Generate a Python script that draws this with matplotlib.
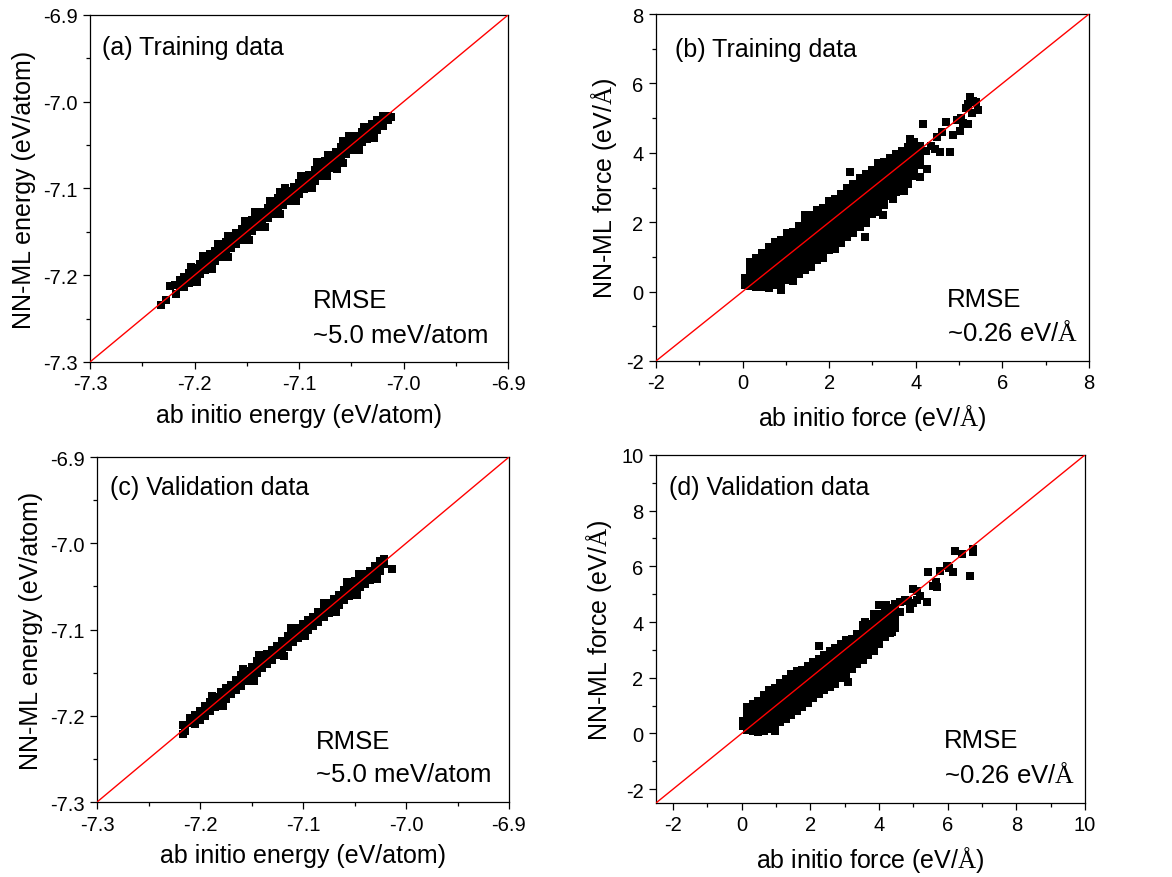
import matplotlib
matplotlib.use('Agg')
import matplotlib.pyplot as plt
import numpy as np
from matplotlib.ticker import MultipleLocator, FormatStrFormatter

plt.rcParams['font.family'] = ['Liberation Sans', 'DejaVu Sans']
plt.rcParams['axes.unicode_minus'] = False
plt.rcParams['mathtext.fontset'] = 'custom'
plt.rcParams['mathtext.rm'] = 'Liberation Serif'

# (a) training energies, eV/atom: (ab initio, NN-ML)
energy_train = [
    (-7.232, -7.234), (-7.227, -7.229), (-7.223, -7.213), (-7.219, -7.211), (-7.218, -7.222),
    (-7.214, -7.206), (-7.214, -7.212),
    (-7.210, -7.202), (-7.210, -7.208), (-7.210, -7.214),
    (-7.205, -7.197), (-7.205, -7.203), (-7.205, -7.209),
    (-7.200, -7.192), (-7.200, -7.198), (-7.200, -7.204),
    (-7.195, -7.187), (-7.195, -7.193), (-7.195, -7.199),
    (-7.190, -7.181), (-7.190, -7.188), (-7.190, -7.194),
    (-7.185, -7.176), (-7.185, -7.183), (-7.185, -7.189),
    (-7.180, -7.172), (-7.180, -7.178), (-7.180, -7.184),
    (-7.175, -7.167), (-7.175, -7.173), (-7.175, -7.179),
    (-7.170, -7.162), (-7.170, -7.168), (-7.170, -7.174),
    (-7.165, -7.156), (-7.165, -7.163), (-7.165, -7.169),
    (-7.160, -7.151), (-7.160, -7.158), (-7.160, -7.164),
    (-7.155, -7.147), (-7.155, -7.153), (-7.155, -7.159),
    (-7.150, -7.142), (-7.150, -7.148), (-7.150, -7.154),
    (-7.145, -7.136), (-7.145, -7.143), (-7.145, -7.149),
    (-7.140, -7.131), (-7.140, -7.138), (-7.140, -7.144),
    (-7.135, -7.127), (-7.135, -7.133), (-7.135, -7.139),
    (-7.130, -7.122), (-7.130, -7.128), (-7.130, -7.134),
    (-7.125, -7.116), (-7.125, -7.123), (-7.125, -7.129),
    (-7.120, -7.111), (-7.120, -7.118), (-7.120, -7.124),
    (-7.115, -7.106), (-7.115, -7.113), (-7.115, -7.119),
    (-7.110, -7.103), (-7.110, -7.109), (-7.110, -7.115),
    (-7.105, -7.098), (-7.105, -7.104), (-7.105, -7.110),
    (-7.100, -7.094), (-7.100, -7.100), (-7.100, -7.106),
    (-7.095, -7.089), (-7.095, -7.095), (-7.095, -7.101),
    (-7.090, -7.084), (-7.090, -7.090), (-7.090, -7.096),
    (-7.085, -7.079), (-7.085, -7.085), (-7.085, -7.091),
    (-7.080, -7.073), (-7.080, -7.080), (-7.080, -7.086),
    (-7.075, -7.068), (-7.075, -7.075), (-7.075, -7.081),
    (-7.070, -7.064), (-7.070, -7.070), (-7.070, -7.076),
    (-7.065, -7.058), (-7.065, -7.065), (-7.065, -7.071), (-7.064, -7.077),
    (-7.060, -7.052), (-7.060, -7.059), (-7.060, -7.065),
    (-7.055, -7.048), (-7.055, -7.054), (-7.055, -7.060),
    (-7.050, -7.044), (-7.050, -7.050), (-7.050, -7.056),
    (-7.045, -7.040), (-7.045, -7.046), (-7.045, -7.052),
    (-7.040, -7.035), (-7.040, -7.041), (-7.040, -7.047),
    (-7.035, -7.031), (-7.035, -7.037), (-7.035, -7.043),
    (-7.030, -7.026), (-7.030, -7.032), (-7.030, -7.038),
    (-7.025, -7.021), (-7.025, -7.027), (-7.025, -7.033),
    (-7.020, -7.017), (-7.020, -7.023), (-7.020, -7.028),
    (-7.015, -7.016), (-7.015, -7.021), (-7.012, -7.018),
    # ragged edges of the band
    (-7.203, -7.190), (-7.192, -7.178), (-7.178, -7.164), (-7.168, -7.155), (-7.152, -7.138),
    (-7.142, -7.127), (-7.128, -7.115), (-7.118, -7.104), (-7.113, -7.099), (-7.098, -7.086),
    (-7.083, -7.070), (-7.072, -7.061), (-7.058, -7.045), (-7.052, -7.040), (-7.038, -7.029),
    (-7.198, -7.208), (-7.183, -7.193), (-7.168, -7.179), (-7.148, -7.159), (-7.133, -7.144),
    (-7.118, -7.129), (-7.103, -7.114), (-7.088, -7.100), (-7.073, -7.086), (-7.058, -7.071),
    (-7.043, -7.056), (-7.028, -7.042),
]

# (b) training forces, eV/A
force_train = [
    (0.05, 0.20), (0.05, 0.38),
    (0.18, 0.15), (0.18, 0.33), (0.18, 0.52), (0.18, 0.70), (0.18, 0.86),
    (0.32, 0.13), (0.32, 0.30), (0.32, 0.48), (0.32, 0.66), (0.32, 0.84), (0.32, 0.98),
    (0.46, 0.14), (0.46, 0.32), (0.46, 0.50), (0.46, 0.68), (0.46, 0.86), (0.46, 1.04), (0.46, 1.12),
    (0.60, 0.10), (0.60, 0.28), (0.60, 0.46), (0.60, 0.64), (0.60, 0.82), (0.60, 1.00), (0.60, 1.18), (0.60, 1.28),
    (0.74, 0.18), (0.74, 0.36), (0.74, 0.54), (0.74, 0.72), (0.74, 0.90), (0.74, 1.08), (0.74, 1.26), (0.74, 1.42),
    (0.88, 0.05), (0.88, 0.24), (0.88, 0.42), (0.88, 0.60), (0.88, 0.78), (0.88, 0.96), (0.88, 1.14), (0.88, 1.32), (0.88, 1.50),
    (1.02, 0.32), (1.02, 0.50), (1.02, 0.68), (1.02, 0.86), (1.02, 1.04), (1.02, 1.22), (1.02, 1.40), (1.02, 1.58), (1.02, 1.70),
    (1.16, 0.30), (1.16, 0.48), (1.16, 0.66), (1.16, 0.84), (1.16, 1.02), (1.16, 1.20), (1.16, 1.38), (1.16, 1.56), (1.16, 1.72),
    (1.30, 0.52), (1.30, 0.70), (1.30, 0.88), (1.30, 1.06), (1.30, 1.24), (1.30, 1.42), (1.30, 1.60), (1.30, 1.78), (1.30, 1.90),
    (1.44, 0.62), (1.44, 0.80), (1.44, 0.98), (1.44, 1.16), (1.44, 1.34), (1.44, 1.52), (1.44, 1.70), (1.44, 1.88), (1.44, 2.06), (1.44, 2.20),
    (1.58, 0.70), (1.58, 0.88), (1.58, 1.06), (1.58, 1.24), (1.58, 1.42), (1.58, 1.60), (1.58, 1.78), (1.58, 1.96), (1.58, 2.14), (1.58, 2.22),
    (1.72, 0.92), (1.72, 1.10), (1.72, 1.28), (1.72, 1.46), (1.72, 1.64), (1.72, 1.82), (1.72, 2.00), (1.72, 2.18), (1.72, 2.34),
    (1.86, 0.98), (1.86, 1.16), (1.86, 1.34), (1.86, 1.52), (1.86, 1.70), (1.86, 1.88), (1.86, 2.06), (1.86, 2.24), (1.86, 2.42),
    (2.00, 1.20), (2.00, 1.38), (2.00, 1.56), (2.00, 1.74), (2.00, 1.92), (2.00, 2.10), (2.00, 2.28), (2.00, 2.46), (2.00, 2.62),
    (2.14, 1.24), (2.14, 1.42), (2.14, 1.60), (2.14, 1.78), (2.14, 1.96), (2.14, 2.14), (2.14, 2.32), (2.14, 2.50), (2.14, 2.66),
    (2.28, 1.40), (2.28, 1.58), (2.28, 1.76), (2.28, 1.94), (2.28, 2.12), (2.28, 2.30), (2.28, 2.48), (2.28, 2.66), (2.28, 2.82),
    (2.42, 1.56), (2.42, 1.74), (2.42, 1.92), (2.42, 2.10), (2.42, 2.28), (2.42, 2.46), (2.42, 2.64), (2.42, 2.82), (2.42, 3.00),
    (2.56, 1.70), (2.56, 1.88), (2.56, 2.06), (2.56, 2.24), (2.56, 2.42), (2.56, 2.60), (2.56, 2.78), (2.56, 2.96), (2.56, 3.10),
    (2.70, 1.86), (2.70, 2.04), (2.70, 2.22), (2.70, 2.40), (2.70, 2.58), (2.70, 2.76), (2.70, 2.94), (2.70, 3.12), (2.70, 3.28),
    (2.84, 1.98), (2.84, 2.16), (2.84, 2.34), (2.84, 2.52), (2.84, 2.70), (2.84, 2.88), (2.84, 3.06), (2.84, 3.24), (2.84, 3.40),
    (2.98, 2.24), (2.98, 2.42), (2.98, 2.60), (2.98, 2.78), (2.98, 2.96), (2.98, 3.14), (2.98, 3.32), (2.98, 3.50),
    (3.12, 2.30), (3.12, 2.48), (3.12, 2.66), (3.12, 2.84), (3.12, 3.02), (3.12, 3.20), (3.12, 3.38), (3.12, 3.56), (3.12, 3.70),
    (3.26, 2.50), (3.26, 2.68), (3.26, 2.86), (3.26, 3.04), (3.26, 3.22), (3.26, 3.40), (3.26, 3.58), (3.26, 3.74),
    (3.40, 2.76), (3.40, 2.94), (3.40, 3.12), (3.40, 3.30), (3.40, 3.48), (3.40, 3.66), (3.40, 3.84),
    (3.54, 2.88), (3.54, 3.06), (3.54, 3.24), (3.54, 3.42), (3.54, 3.60), (3.54, 3.78), (3.54, 3.96),
    (3.68, 3.02), (3.68, 3.20), (3.68, 3.38), (3.68, 3.56), (3.68, 3.74), (3.68, 3.92), (3.68, 4.06),
    (3.82, 3.10), (3.82, 3.28), (3.82, 3.46), (3.82, 3.64), (3.82, 3.82), (3.82, 4.00), (3.82, 4.18),
    (3.96, 3.32), (3.96, 3.50), (3.96, 3.68), (3.96, 3.86), (3.96, 4.04), (3.96, 4.22), (3.96, 4.30),
    (4.10, 3.30), (4.10, 3.66), (4.10, 3.84), (4.10, 4.02), (4.10, 4.20),
    (2.48, 3.44), (2.83, 1.56), (3.25, 2.22), (3.48, 2.67), (3.73, 2.90), (3.86, 4.40), (4.17, 4.83),
    (4.25, 3.53), (4.24, 4.05), (4.35, 4.20), (4.45, 4.10), (4.50, 4.45), (4.56, 4.01), (4.60, 4.60),
    (4.70, 4.90), (4.79, 4.01), (4.85, 4.50), (4.95, 4.95), (5.02, 4.64), (5.05, 5.00), (5.10, 4.85),
    (5.15, 5.30), (5.20, 5.40), (5.21, 4.83), (5.25, 5.60), (5.30, 5.15), (5.32, 5.50), (5.40, 5.45),
    (5.44, 5.22),
]

# (c) validation energies, eV/atom
energy_valid = [
    (-7.217, -7.211), (-7.217, -7.221), (-7.215, -7.218),
    (-7.210, -7.203), (-7.210, -7.208),
    (-7.205, -7.199), (-7.205, -7.205), (-7.205, -7.210),
    (-7.200, -7.195), (-7.200, -7.200), (-7.200, -7.205),
    (-7.195, -7.189), (-7.195, -7.195), (-7.195, -7.200),
    (-7.190, -7.184), (-7.190, -7.190), (-7.190, -7.195),
    (-7.185, -7.178), (-7.185, -7.185), (-7.185, -7.190),
    (-7.180, -7.173), (-7.180, -7.180), (-7.180, -7.185),
    (-7.175, -7.168), (-7.175, -7.175), (-7.175, -7.180),
    (-7.170, -7.164), (-7.170, -7.170), (-7.170, -7.175),
    (-7.165, -7.159), (-7.165, -7.165), (-7.165, -7.170),
    (-7.160, -7.153), (-7.160, -7.160), (-7.160, -7.165),
    (-7.155, -7.148), (-7.155, -7.155), (-7.155, -7.160),
    (-7.150, -7.143), (-7.150, -7.150), (-7.150, -7.155),
    (-7.145, -7.137), (-7.145, -7.144), (-7.145, -7.150),
    (-7.140, -7.132), (-7.140, -7.139), (-7.140, -7.145),
    (-7.135, -7.128), (-7.135, -7.135), (-7.135, -7.140),
    (-7.130, -7.124), (-7.130, -7.130), (-7.130, -7.135),
    (-7.125, -7.119), (-7.125, -7.125), (-7.125, -7.130),
    (-7.120, -7.113), (-7.120, -7.120), (-7.120, -7.125),
    (-7.115, -7.107), (-7.115, -7.114), (-7.115, -7.120),
    (-7.110, -7.102), (-7.110, -7.109), (-7.110, -7.115),
    (-7.105, -7.098), (-7.105, -7.105), (-7.105, -7.110),
    (-7.100, -7.094), (-7.100, -7.100), (-7.100, -7.105),
    (-7.095, -7.089), (-7.095, -7.095), (-7.095, -7.100),
    (-7.090, -7.085), (-7.090, -7.090), (-7.090, -7.096),
    (-7.085, -7.080), (-7.085, -7.085), (-7.085, -7.091),
    (-7.080, -7.074), (-7.080, -7.080), (-7.080, -7.086),
    (-7.075, -7.069), (-7.075, -7.075), (-7.075, -7.081),
    (-7.070, -7.065), (-7.070, -7.070), (-7.070, -7.076),
    (-7.065, -7.060), (-7.065, -7.065), (-7.065, -7.071),
    (-7.060, -7.054), (-7.060, -7.060), (-7.060, -7.066),
    (-7.055, -7.049), (-7.055, -7.055), (-7.055, -7.061),
    (-7.050, -7.044), (-7.050, -7.050), (-7.050, -7.056),
    (-7.045, -7.039), (-7.045, -7.045), (-7.045, -7.051),
    (-7.040, -7.036), (-7.040, -7.042), (-7.040, -7.047),
    (-7.035, -7.032), (-7.035, -7.037), (-7.035, -7.043),
    (-7.030, -7.026), (-7.030, -7.032), (-7.030, -7.038),
    (-7.025, -7.021), (-7.025, -7.027), (-7.025, -7.032),
    (-7.021, -7.018), (-7.021, -7.024), (-7.014, -7.030),
    # ragged edges of the band
    (-7.188, -7.177), (-7.158, -7.146), (-7.143, -7.130), (-7.112, -7.098), (-7.080, -7.069),
    (-7.057, -7.045), (-7.046, -7.036),
    (-7.178, -7.189), (-7.148, -7.160), (-7.118, -7.131), (-7.098, -7.108), (-7.068, -7.080),
    (-7.048, -7.060), (-7.028, -7.041),
]

# (d) validation forces, eV/A
force_valid = [
    (0.05, 0.25), (0.05, 0.45),
    (0.16, 0.12), (0.16, 0.34), (0.16, 0.56), (0.16, 0.78), (0.16, 0.95),
    (0.32, 0.08), (0.32, 0.30), (0.32, 0.52), (0.32, 0.74), (0.32, 0.96), (0.32, 1.05),
    (0.48, 0.06), (0.48, 0.28), (0.48, 0.50), (0.48, 0.72), (0.48, 0.94), (0.48, 1.16),
    (0.64, 0.10), (0.64, 0.32), (0.64, 0.54), (0.64, 0.76), (0.64, 0.98), (0.64, 1.20), (0.64, 1.38),
    (0.80, 0.14), (0.80, 0.36), (0.80, 0.58), (0.80, 0.80), (0.80, 1.02), (0.80, 1.24), (0.80, 1.46), (0.80, 1.55),
    (0.96, 0.10), (0.96, 0.30), (0.96, 0.52), (0.96, 0.74), (0.96, 0.96), (0.96, 1.18), (0.96, 1.40), (0.96, 1.62),
    (1.12, 0.40), (1.12, 0.62), (1.12, 0.84), (1.12, 1.06), (1.12, 1.28), (1.12, 1.50), (1.12, 1.72), (1.12, 1.80),
    (1.28, 0.52), (1.28, 0.74), (1.28, 0.96), (1.28, 1.18), (1.28, 1.40), (1.28, 1.62), (1.28, 1.84), (1.28, 1.95),
    (1.44, 0.66), (1.44, 0.88), (1.44, 1.10), (1.44, 1.32), (1.44, 1.54), (1.44, 1.76), (1.44, 1.98), (1.44, 2.15),
    (1.60, 0.80), (1.60, 1.02), (1.60, 1.24), (1.60, 1.46), (1.60, 1.68), (1.60, 1.90), (1.60, 2.12), (1.60, 2.25),
    (1.76, 0.96), (1.76, 1.18), (1.76, 1.40), (1.76, 1.62), (1.76, 1.84), (1.76, 2.06), (1.76, 2.28),
    (1.92, 1.10), (1.92, 1.32), (1.92, 1.54), (1.92, 1.76), (1.92, 1.98), (1.92, 2.20), (1.92, 2.42),
    (2.08, 1.28), (2.08, 1.50), (2.08, 1.72), (2.08, 1.94), (2.08, 2.16), (2.08, 2.38), (2.08, 2.55),
    (2.24, 1.40), (2.24, 1.62), (2.24, 1.84), (2.24, 2.06), (2.24, 2.28), (2.24, 2.50), (2.24, 2.68), (2.24, 3.15),
    (2.40, 1.56), (2.40, 1.78), (2.40, 2.00), (2.40, 2.22), (2.40, 2.44), (2.40, 2.66), (2.40, 2.80),
    (2.56, 1.66), (2.56, 1.88), (2.56, 2.10), (2.56, 2.32), (2.56, 2.54), (2.56, 2.76), (2.56, 2.95),
    (2.72, 1.76), (2.72, 1.98), (2.72, 2.20), (2.72, 2.42), (2.72, 2.64), (2.72, 2.86), (2.72, 3.05),
    (2.88, 1.98), (2.88, 2.20), (2.88, 2.42), (2.88, 2.64), (2.88, 2.86), (2.88, 3.08), (2.88, 3.20),
    (3.04, 2.12), (3.04, 2.34), (3.04, 2.56), (3.04, 2.78), (3.04, 3.00), (3.04, 3.22), (3.04, 3.35),
    (3.20, 2.30), (3.20, 2.52), (3.20, 2.74), (3.20, 2.96), (3.20, 3.18), (3.20, 3.40),
    (3.36, 2.48), (3.36, 2.70), (3.36, 2.92), (3.36, 3.14), (3.36, 3.36), (3.36, 3.58),
    (3.52, 2.62), (3.52, 2.84), (3.52, 3.06), (3.52, 3.28), (3.52, 3.50), (3.52, 3.72), (3.52, 3.88),
    (3.68, 2.82), (3.68, 3.04), (3.68, 3.26), (3.68, 3.48), (3.68, 3.70), (3.68, 3.92),
    (3.84, 2.95), (3.84, 3.17), (3.84, 3.39), (3.84, 3.61), (3.84, 3.83), (3.84, 4.05), (3.84, 4.30),
    (4.00, 3.20), (4.00, 3.42), (4.00, 3.64), (4.00, 3.86), (4.00, 4.08), (4.00, 4.30), (4.00, 4.62),
    (4.16, 3.45), (4.16, 3.67), (4.16, 3.89), (4.16, 4.11), (4.16, 4.33), (4.16, 4.50),
    (4.32, 3.62), (4.32, 3.84), (4.32, 4.06), (4.32, 4.28), (4.32, 4.50),
    (4.48, 3.78), (4.48, 4.00), (4.48, 4.22), (4.48, 4.44), (4.48, 4.66),
    (3.11, 1.83), (4.37, 3.63), (4.61, 4.35), (4.61, 4.72), (4.75, 4.80), (4.90, 4.47), (5.00, 4.70),
    (5.00, 5.19), (5.10, 5.13), (5.20, 4.95), (5.10, 4.80), (4.85, 4.75), (5.39, 4.71), (5.44, 5.79),
    (5.58, 5.31), (5.68, 5.25), (5.78, 5.84), (5.97, 6.02), (6.17, 5.78), (6.05, 5.95), (6.22, 6.56),
    (6.41, 6.45), (6.65, 5.66), (6.75, 6.50), (6.75, 6.62), (5.65, 5.45), (4.20, 4.60), (3.60, 4.00),
]

AA = r'$\mathrm{\AA}$'
panels = [
    # rect, data, limits, major, minor, fmt, title, rmse, xlabel, ylabel, text positions
    ([0.0768, 0.5866, 0.3567, 0.3952], energy_train, (-7.3, -6.9), 0.1, 0.05, '%.1f',
     '(a) Training data', '~5.0 meV/atom', 'ab initio energy (eV/atom)', 'NN-ML energy (eV/atom)',
     (0.029, 0.888), (0.533, 0.158, 0.058)),
    ([0.5597, 0.5877, 0.3695, 0.3952], force_train, (-2, 8), 2, 1, '%d',
     '(b) Training data', '~0.26 eV/' + AA, 'ab initio force (eV/' + AA + ')', 'NN-ML force (eV/' + AA + ')',
     (0.044, 0.880), (0.671, 0.159, 0.061)),
    ([0.0828, 0.0854, 0.3515, 0.3929], energy_valid, (-7.3, -6.9), 0.1, 0.05, '%.1f',
     '(c) Validation data', '~5.0 meV/atom', 'ab initio energy (eV/atom)', 'NN-ML energy (eV/atom)',
     (0.032, 0.893), (0.532, 0.158, 0.062)),
    ([0.5597, 0.0843, 0.3660, 0.3964], force_valid, (-2.5, 10), 2, 1, '%d',
     '(d) Validation data', '~0.26 eV/' + AA, 'ab initio force (eV/' + AA + ')', 'NN-ML force (eV/' + AA + ')',
     (0.031, 0.888), (0.672, 0.160, 0.061)),
]

fig = plt.figure(figsize=(11.72, 8.78), dpi=100)

for rect, pts, lims, major, minor, fmt, title, rmse, xlab, ylab, tpos, rpos in panels:
    ax = fig.add_axes(rect)
    xy = np.array(pts)
    ax.scatter(xy[:, 0], xy[:, 1], marker='s', s=34, c='black', linewidths=0, zorder=2)
    ax.plot(lims, lims, color='#ff0000', lw=1.0, zorder=3)
    ax.set_xlim(lims)
    ax.set_ylim(lims)
    for axis in (ax.xaxis, ax.yaxis):
        axis.set_major_locator(MultipleLocator(major))
        axis.set_minor_locator(MultipleLocator(minor))
        axis.set_major_formatter(FormatStrFormatter(fmt))
    ax.tick_params(which='both', direction='out', top=False, right=False, width=0.9,
                   labelsize=14.5, pad=4)
    ax.tick_params(which='major', length=5)
    ax.tick_params(which='minor', length=3)
    for sp in ax.spines.values():
        sp.set_linewidth(0.9)
    ax.set_xlabel(xlab, fontsize=18, labelpad=7)
    ax.set_ylabel(ylab, fontsize=18, labelpad=5)
    ax.text(tpos[0], tpos[1], title, transform=ax.transAxes, fontsize=18, va='baseline')
    ax.text(rpos[0], rpos[1], 'RMSE', transform=ax.transAxes, fontsize=18.5, va='baseline')
    ax.text(rpos[0], rpos[2], rmse, transform=ax.transAxes, fontsize=18.5, va='baseline')

fig.savefig('out.png', dpi=100)
